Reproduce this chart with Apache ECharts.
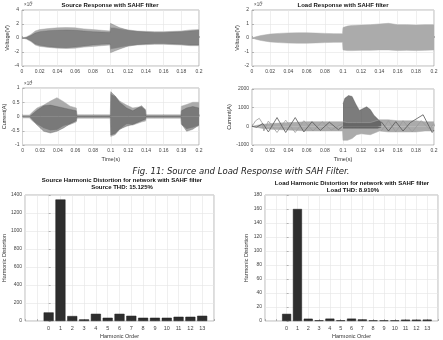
<!DOCTYPE html>
<html>
<head>
<meta charset="utf-8">
<script src="https://cdn.jsdelivr.net/npm/echarts@6/dist/echarts.min.js"></script>
<style>
  html, body { margin: 0; padding: 0; background: #fff; }
  #chart { width: 443px; height: 340px; }
</style>
</head>
<body>
<div id="chart"></div>
<script>
// Envelopes (upper / lower edge of the shaded trace)

// Source voltage, units of 1e5 V
const srcVoltT = [0, 0.005, 0.01, 0.015, 0.02, 0.03, 0.04, 0.05, 0.06, 0.07, 0.08, 0.09, 0.0995, 0.1, 0.104, 0.11, 0.12, 0.13, 0.14, 0.15, 0.16, 0.17, 0.18, 0.19, 0.2]
const srcVoltLightUp = [0, 0.15, 0.5, 1.0, 1.2, 1.35, 1.45, 1.5, 1.45, 1.3, 1.2, 1.1, 1.0, 1.5, 1.5, 1.35, 1.15, 1.0, 0.95, 0.9, 0.9, 0.95, 1.0, 1.15, 1.2]
const srcVoltLightLo = [0, -0.15, -0.5, -1.0, -1.2, -1.35, -1.45, -1.5, -1.45, -1.3, -1.2, -1.1, -1.0, -1.6, -1.55, -1.4, -1.15, -1.0, -0.95, -0.9, -0.9, -0.95, -1.0, -1.1, -1.1]
const srcVoltDarkUp = [0, 0.1, 0.35, 0.7, 0.9, 1.05, 1.1, 1.15, 1.1, 1.0, 0.9, 0.85, 0.8, 2.1, 1.85, 1.5, 1.1, 0.95, 0.85, 0.8, 0.8, 0.85, 0.9, 1.0, 1.1]
const srcVoltDarkLo = [0, -0.1, -0.4, -0.85, -1.05, -1.25, -1.35, -1.4, -1.3, -1.15, -1.0, -0.9, -0.85, -2.1, -1.9, -1.6, -1.15, -0.95, -0.85, -0.8, -0.8, -0.85, -0.9, -1.0, -1.0]

// Load voltage, units of 1e5 V
const loadVoltT = [0, 0.005, 0.01, 0.02, 0.03, 0.04, 0.05, 0.06, 0.07, 0.08, 0.09, 0.0995, 0.1, 0.105, 0.11, 0.12, 0.13, 0.14, 0.15, 0.16, 0.17, 0.18, 0.19, 0.2]
const loadVoltUp = [0, 0.1, 0.18, 0.28, 0.33, 0.36, 0.37, 0.37, 0.35, 0.33, 0.31, 0.3, 0.75, 0.85, 0.9, 0.92, 0.95, 1.0, 1.05, 0.95, 0.95, 0.92, 0.95, 0.95]
const loadVoltLo = [0, -0.1, -0.18, -0.28, -0.33, -0.36, -0.37, -0.37, -0.35, -0.33, -0.31, -0.3, -0.85, -0.9, -0.9, -0.88, -0.88, -0.85, -0.85, -0.9, -0.88, -0.9, -0.88, -0.85]

// Source current, units of 1e4 A
const srcCurT = [0, 0.008, 0.011, 0.0165, 0.024, 0.0316, 0.039, 0.0466, 0.054, 0.061, 0.0617, 0.07, 0.08, 0.09, 0.0995, 0.1, 0.105, 0.11, 0.118, 0.125, 0.135, 0.1395, 0.14, 0.15, 0.16, 0.17, 0.1795, 0.18, 0.186, 0.193, 0.2]
const srcCurLightUp = [0.05, 0.05, 0.15, 0.3, 0.4, 0.54, 0.66, 0.52, 0.36, 0.3, 0.06, 0.06, 0.06, 0.06, 0.06, 0.8, 0.72, 0.54, 0.4, 0.3, 0.35, 0.25, 0.06, 0.06, 0.06, 0.06, 0.06, 0.36, 0.42, 0.5, 0.5]
const srcCurLightLo = [-0.05, -0.05, -0.15, -0.28, -0.42, -0.5, -0.48, -0.34, -0.28, -0.19, -0.06, -0.06, -0.06, -0.06, -0.06, -0.7, -0.64, -0.46, -0.28, -0.3, -0.19, -0.16, -0.06, -0.06, -0.06, -0.06, -0.06, -0.28, -0.45, -0.4, -0.32]
const srcCurDarkUp = [0, 0, 0.08, 0.22, 0.38, 0.4, 0.35, 0.3, 0.25, 0.2, 0.02, 0.02, 0.02, 0.02, 0.02, 0.87, 0.72, 0.5, 0.3, 0.2, 0.38, 0.2, 0.02, 0.02, 0.02, 0.02, 0.02, 0.2, 0.3, 0.35, 0.3]
const srcCurDarkLo = [0, 0, -0.1, -0.3, -0.52, -0.58, -0.52, -0.4, -0.25, -0.15, -0.02, -0.02, -0.02, -0.02, -0.02, -0.65, -0.6, -0.45, -0.34, -0.28, -0.15, -0.1, -0.02, -0.02, -0.02, -0.02, -0.02, -0.25, -0.52, -0.45, -0.3]

// Load current, A
const loadNoiseT = [0, 0.01, 0.02, 0.04, 0.06, 0.08, 0.0995, 0.1, 0.105, 0.11, 0.115, 0.12, 0.13, 0.14, 0.15, 0.16, 0.17, 0.18, 0.19, 0.2]
const loadNoiseUp = [0, 100, 150, 200, 250, 250, 250, 200, 200, 200, 200, 200, 200, 350, 350, 300, 300, 300, 250, 250]
const loadNoiseLo = [0, -100, -150, -200, -250, -250, -250, -750, -750, -650, -450, -400, -450, -250, -300, -300, -300, -300, -250, -250]
const loadDarkT = [0.1, 0.102, 0.106, 0.11, 0.114, 0.118, 0.122, 0.126, 0.13, 0.134, 0.138, 0.142]
const loadDarkUp = [1200, 1500, 1650, 1600, 1200, 850, 950, 1050, 900, 600, 400, 200]
const loadDarkLo = [-100, -100, -100, -100, -100, -100, -100, -100, -100, -100, -100, -50]
const loadDarkLineT = [0, 0.005, 0.012, 0.018, 0.0275, 0.037, 0.0475, 0.057, 0.066, 0.075, 0.085, 0.095, 0.0995, 0.12, 0.142, 0.15, 0.158, 0.166, 0.174, 0.188, 0.198, 0.2]
const loadDarkLineV = [0, -50, 150, -300, 470, -330, 470, -300, 250, -220, 220, -180, 0, null, 250, -250, 250, -250, 200, 620, -330, -200]
const loadLightLineT = [0, 0.004, 0.008, 0.011, 0.013, 0.018, 0.0275, 0.037, 0.0475, 0.057, 0.067, 0.077, 0.087, 0.0995, 0.12, 0.142, 0.15, 0.158, 0.166, 0.176, 0.186, 0.195, 0.2]
const loadLightLineV = [0, 300, 430, 200, -250, 280, -330, 330, -330, 300, -250, 250, -200, 150, null, -250, 300, -300, 300, -300, 300, -150, 150]

// Harmonic spectra
const harmonicOrder = [0, 1, 2, 3, 4, 5, 6, 7, 8, 9, 10, 11, 12, 13]
const sourceHarm = [95, 1350, 55, 18, 80, 36, 80, 58, 36, 36, 36, 47, 47, 58]
const loadHarm = [10.2, 160, 3.3, 1, 3.4, 1, 3.4, 2.3, 0.9, 0.9, 0.9, 1.9, 1.9, 2]

const LIGHT = "#ababab"
const DARK = "#505050"
const FONT = "Liberation Sans"

const chart = echarts.init(document.getElementById("chart"))

const pairs = (t, v) => t.map((x, i) => [x, v[i]])

// band = two filled lines (upper edge to 0 and lower edge to 0)
function band(idx, t, up, lo, color, opacity) {
  const mk = (vals) => ({
    type: "line", xAxisIndex: idx, yAxisIndex: idx,
    data: pairs(t, vals), showSymbol: false, silent: true, animation: false,
    lineStyle: { width: 0.5, color, opacity },
    areaStyle: { color, opacity }
  })
  return [mk(up), mk(lo)]
}

function trace(idx, t, v, color, width) {
  return {
    type: "line", xAxisIndex: idx, yAxisIndex: idx,
    data: pairs(t, v), showSymbol: false, silent: true, animation: false,
    lineStyle: { width, color }
  }
}

const grids = [
  { left: 22, top: 10, width: 177, height: 56 },
  { left: 252, top: 10, width: 182, height: 56 },
  { left: 22, top: 88, width: 177, height: 57 },
  { left: 252, top: 89, width: 182, height: 56 },
  { left: 25, top: 195, width: 189, height: 129 },
  { left: 265, top: 195, width: 173, height: 129 }
].map(g => ({ ...g, show: true, borderColor: "#8c8c8c", borderWidth: 0.6 }))

const labelStyle = { fontSize: 5, color: "#444", fontFamily: FONT }
const split = { show: true, lineStyle: { color: "#e4e4e4", width: 0.6 } }
const tick = { show: true, inside: true, length: 2, lineStyle: { color: "#777", width: 0.5 } }
const nameStyle = { fontSize: 5.5, color: "#333", fontFamily: FONT }

function timeAxis(idx, withName) {
  return {
    type: "value", gridIndex: idx, min: 0, max: 0.2, interval: 0.02,
    axisLine: { show: false }, axisTick: tick,
    axisLabel: { ...labelStyle, margin: 3, formatter: v => String(+v.toFixed(2)) },
    splitLine: split,
    name: withName ? "Time(s)" : "", nameLocation: "middle", nameGap: 11,
    nameTextStyle: nameStyle
  }
}

function valueAxis(idx, min, max, interval, name, gap) {
  return {
    type: "value", gridIndex: idx, min, max, interval,
    axisLine: { show: false }, axisTick: tick,
    axisLabel: { ...labelStyle, margin: 3, formatter: v => String(+v.toFixed(2)) },
    splitLine: split,
    name, nameLocation: "middle", nameGap: gap,
    nameTextStyle: nameStyle
  }
}

function orderAxis(idx) {
  return {
    type: "value", gridIndex: idx, min: -2, max: 14, interval: 1,
    axisLine: { show: false }, axisTick: tick,
    axisLabel: { ...labelStyle, fontSize: 5.5, margin: 4, formatter: v => (v >= 0 && v <= 13 ? String(v) : "") },
    splitLine: split,
    name: "Harmonic Order", nameLocation: "middle", nameGap: 12,
    nameTextStyle: nameStyle
  }
}

const xAxis = [timeAxis(0, false), timeAxis(1, false), timeAxis(2, true), timeAxis(3, true), orderAxis(4), orderAxis(5)]
const yAxis = [
  valueAxis(0, -4, 4, 2, "Voltage(V)", 10),
  valueAxis(1, -2, 2, 1, "Voltage(V)", 10),
  valueAxis(2, -1, 1, 0.5, "Current(A)", 12),
  valueAxis(3, -1000, 2000, 1000, "Current(A)", 15),
  valueAxis(4, 0, 1400, 200, "Harmonic Distortion", 16),
  valueAxis(5, 0, 180, 20, "Harmonic Distortion", 13)
]

const bar = (idx, vals) => ({
  type: "bar", xAxisIndex: idx, yAxisIndex: idx, animation: false, silent: true,
  data: pairs(harmonicOrder, vals), barWidth: idx === 4 ? 10 : 9,
  itemStyle: { color: "#2e2e2e", borderColor: "#1a1a1a", borderWidth: 0.5 }
})

const series = [
  ...band(0, srcVoltT, srcVoltLightUp, srcVoltLightLo, LIGHT, 1),
  ...band(0, srcVoltT, srcVoltDarkUp, srcVoltDarkLo, DARK, 0.45),
  ...band(1, loadVoltT, loadVoltUp, loadVoltLo, LIGHT, 1),
  ...band(2, srcCurT, srcCurLightUp, srcCurLightLo, LIGHT, 1),
  ...band(2, srcCurT, srcCurDarkUp, srcCurDarkLo, DARK, 0.55),
  ...band(3, loadNoiseT, loadNoiseUp, loadNoiseLo, LIGHT, 1),
  ...band(3, loadDarkT, loadDarkUp, loadDarkLo, DARK, 0.75),
  trace(3, loadLightLineT, loadLightLineV, "#9a9a9a", 0.8),
  trace(3, loadDarkLineT, loadDarkLineV, "#555", 0.8),
  bar(4, sourceHarm),
  bar(5, loadHarm)
]

const txt = (x, y, text, opts = {}) => ({
  type: "text", x, y, silent: true,
  style: {
    text, fill: "#111", textAlign: "center", textVerticalAlign: "middle",
    fontFamily: FONT, fontSize: 6, fontWeight: "bold", ...opts
  }
})
const small = { textAlign: "left", fontWeight: "normal", fontSize: 4.5, fill: "#555" }
const sup = { ...small, fontSize: 3.5 }

const graphic = [
  txt(110, 5, "Source Response with SAHF filter"),
  txt(343, 5, "Load Response with SAHF filter"),
  txt(122, 180, "Source Harmonic Distortion for network with SAHF filter"),
  txt(122, 187, "Source THD: 15.125%"),
  txt(352, 183, "Load Harmonic Distortion for network with SAHF filter"),
  txt(353, 190, "Load THD: 8.910%"),
  txt(24, 5, "×10", small), txt(30.5, 3, "5", sup),
  txt(254, 5, "×10", small), txt(260.5, 3, "5", sup),
  txt(24, 84, "×10", small), txt(30.5, 82, "4", sup),
  txt(241, 172, "Fig. 11: Source and Load Response with SAH Filter.", {
    fontFamily: "DejaVu Sans", fontWeight: "normal", fontStyle: "italic", fontSize: 8.5, fill: "#222"
  })
]

chart.setOption({
  backgroundColor: "#fff",
  animation: false,
  grid: grids,
  xAxis,
  yAxis,
  series,
  graphic
})
</script>
</body>
</html>
